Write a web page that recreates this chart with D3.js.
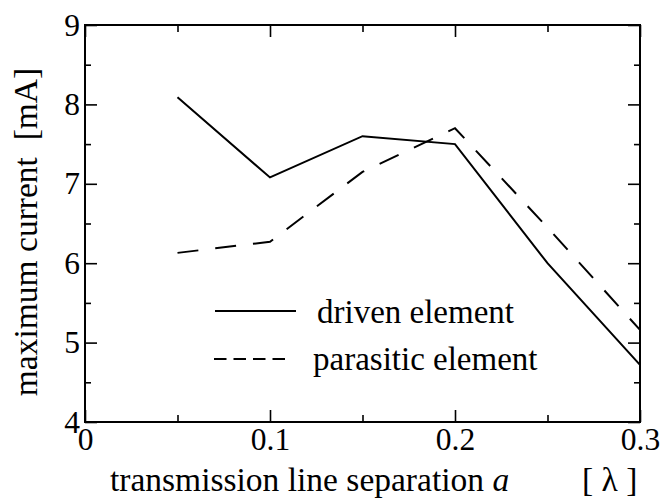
<!DOCTYPE html>
<html>
<head>
<meta charset="utf-8">
<script src="https://cdn.jsdelivr.net/npm/d3@7"></script>
</head>
<body style="margin:0">
<svg id="fig" width="662" height="500"></svg>
<script>
const separation = [0.05, 0.10, 0.15, 0.20, 0.25, 0.30];
const drivenCurrent = [8.09, 7.08, 7.60, 7.50, 6.00, 4.72];
const parasiticCurrent = [6.13, 6.27, 7.15, 7.70, 6.45, 5.16];
const seriesNames = ["driven element", "parasitic element"];
const xTicks = [0, 0.1, 0.2, 0.3];
const xMinorTicks = [0.05, 0.15, 0.25];
const yTicks = [4, 5, 6, 7, 8, 9];
const yMinorTicks = [4.5, 5.5, 6.5, 7.5, 8.5];
const xTitle = "transmission line separation ";
const xTitleVar = "a";
const xTitleUnit = "[ λ ]";
const yTitle = "maximum current  [mA]";

const FONT = "Liberation Serif";
const svg = d3.select("#fig");
const L = 85, R = 640, T = 25, B = 422;
const FS_TICK = 31.5, FS_LEG = 33, FS_TITLE = 33.5;

const x = d3.scaleLinear().domain([0, 0.3]).range([L, R]);
const y = d3.scaleLinear().domain([4, 9]).range([B, T]);

function styleAxis(g) {
  g.attr("font-family", FONT).attr("font-size", FS_TICK);
  g.select(".domain").remove();
  g.selectAll(".tick line").attr("stroke", "#000").attr("stroke-width", 1.6);
  g.selectAll(".tick text").attr("font-family", FONT).attr("font-size", FS_TICK).attr("fill", "#000");
}

// major ticks with labels
svg.append("g").attr("transform", `translate(0,${B})`)
  .call(d3.axisBottom(x).tickValues(xTicks).tickSize(-12).tickPadding(6).tickFormat(d => d === 0 ? "0" : d3.format(".1f")(d)))
  .call(styleAxis);
svg.append("g").attr("transform", `translate(${L},0)`)
  .call(d3.axisLeft(y).tickValues(yTicks).tickSize(-12).tickPadding(5).tickFormat(d3.format("d")))
  .call(styleAxis);
// mirrored major ticks
svg.append("g").attr("transform", `translate(0,${T})`)
  .call(d3.axisTop(x).tickValues(xTicks).tickSize(-12).tickFormat(""))
  .call(styleAxis);
svg.append("g").attr("transform", `translate(${R},0)`)
  .call(d3.axisRight(y).tickValues(yTicks).tickSize(-12).tickFormat(""))
  .call(styleAxis);
// minor ticks
svg.append("g").attr("transform", `translate(0,${B})`)
  .call(d3.axisBottom(x).tickValues(xMinorTicks).tickSize(-7).tickFormat(""))
  .call(styleAxis);
svg.append("g").attr("transform", `translate(0,${T})`)
  .call(d3.axisTop(x).tickValues(xMinorTicks).tickSize(-7).tickFormat(""))
  .call(styleAxis);
svg.append("g").attr("transform", `translate(${L},0)`)
  .call(d3.axisLeft(y).tickValues(yMinorTicks).tickSize(-6).tickFormat(""))
  .call(styleAxis);
svg.append("g").attr("transform", `translate(${R},0)`)
  .call(d3.axisRight(y).tickValues(yMinorTicks).tickSize(-6).tickFormat(""))
  .call(styleAxis);

// frame
svg.append("rect").attr("x", L).attr("y", T).attr("width", R - L).attr("height", B - T)
  .attr("fill", "none").attr("stroke", "#000").attr("stroke-width", 2);

// lines
const line = d3.line().x(d => x(d[0])).y(d => y(d[1]));
svg.append("path").datum(separation.map((s, i) => [s, drivenCurrent[i]]))
  .attr("d", line).attr("fill", "none").attr("stroke", "#000").attr("stroke-width", 2);
svg.append("path").datum(separation.map((s, i) => [s, parasiticCurrent[i]]))
  .attr("d", line).attr("fill", "none").attr("stroke", "#000").attr("stroke-width", 2)
  .attr("stroke-dasharray", "21,17");

function txt(sel, fs) { return sel.attr("font-family", FONT).attr("font-size", fs).attr("fill", "#000"); }

// legend
svg.append("line").attr("x1", 215).attr("x2", 296).attr("y1", 311).attr("y2", 311)
  .attr("stroke", "#000").attr("stroke-width", 2);
svg.append("text").attr("x", 317).attr("y", 323).call(txt, FS_LEG).text(seriesNames[0]);
svg.append("line").attr("x1", 214).attr("x2", 287).attr("y1", 359).attr("y2", 359)
  .attr("stroke", "#000").attr("stroke-width", 2).attr("stroke-dasharray", "12.5,7");
svg.append("text").attr("x", 313).attr("y", 370).call(txt, FS_LEG).text(seriesNames[1]);

// axis titles
const xt = svg.append("text").attr("x", 110).attr("y", 491).call(txt, FS_TITLE).attr("xml:space", "preserve");
xt.append("tspan").text(xTitle);
xt.append("tspan").attr("font-style", "italic").text(xTitleVar);
svg.append("text").attr("x", 582).attr("y", 491).call(txt, FS_TITLE).attr("xml:space", "preserve").text(xTitleUnit);

svg.append("text").attr("transform", `translate(37,232) rotate(-90)`)
  .attr("text-anchor", "middle").call(txt, FS_TITLE).attr("xml:space", "preserve").text(yTitle);
</script>
</body>
</html>
